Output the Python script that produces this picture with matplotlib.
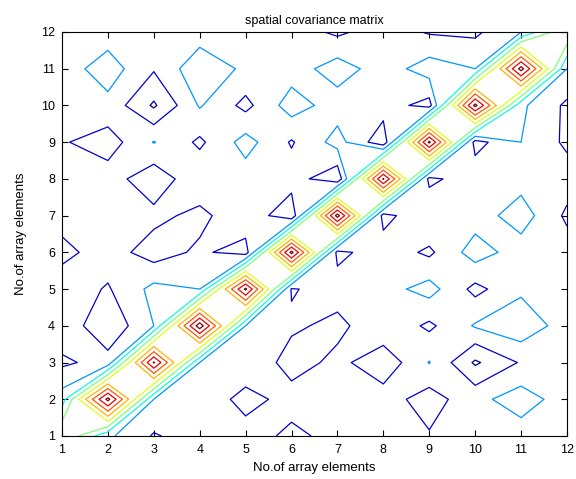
import numpy as np
import matplotlib
matplotlib.use("Agg")
import matplotlib.pyplot as plt

# array element index on both axes
x_elements = list(range(1, 13))
y_elements = list(range(1, 13))

# covariance magnitude, one row per y element (y = 1 at the bottom)
row_y1 = [0.60, 0.32, 0.19, 0.25, 0.26, 0.17, 0.24, 0.25, 0.21, 0.25, 0.25, 0.25]
row_y2 = [0.35, 1.03, 0.30, 0.30, 0.15, 0.25, 0.25, 0.25, 0.15, 0.27, 0.35, 0.25]
row_y3 = [0.18, 0.24, 1.01, 0.30, 0.30, 0.15, 0.23, 0.13, 0.305, 0.085, 0.21, 0.25]
row_y4 = [0.27, 0.12, 0.30, 1.06, 0.30, 0.22, 0.17, 0.28, 0.18, 0.31, 0.37, 0.25]
row_y5 = [0.26, 0.19, 0.33, 0.30, 1.02, 0.19, 0.25, 0.26, 0.34, 0.17, 0.28, 0.25]
row_y6 = [0.17, 0.25, 0.15, 0.22, 0.15, 1.03, 0.17, 0.26, 0.18, 0.35, 0.25, 0.25]
row_y7 = [0.24, 0.25, 0.23, 0.17, 0.28, 0.12, 1.04, 0.16, 0.30, 0.25, 0.35, 0.18]
row_y8 = [0.25, 0.25, 0.13, 0.28, 0.25, 0.25, 0.12, 1.01, 0.17, 0.27, 0.26, 0.25]
row_y9 = [0.21, 0.15, 0.305, 0.18, 0.34, 0.19, 0.34, 0.13, 1.02, 0.16, 0.30, 0.18]
row_y10 = [0.25, 0.27, 0.085, 0.31, 0.17, 0.35, 0.25, 0.25, 0.16, 1.03, 0.32, 0.18]
row_y11 = [0.25, 0.35, 0.21, 0.37, 0.28, 0.25, 0.35, 0.25, 0.35, 0.30, 1.04, 0.30]
row_y12 = [0.25, 0.25, 0.25, 0.25, 0.25, 0.25, 0.18, 0.25, 0.19, 0.18, 0.30, 0.60]

contour_levels = [0.1, 0.2, 0.3, 0.4, 0.5, 0.6, 0.7, 0.8, 0.9, 1.0]

Z = np.array([row_y1, row_y2, row_y3, row_y4, row_y5, row_y6,
              row_y7, row_y8, row_y9, row_y10, row_y11, row_y12])
X, Y = np.meshgrid(x_elements, y_elements)

# jet colours for each level (low levels pushed apart a bit, like the old MATLAB look)
jet = plt.get_cmap('jet')
level_colors = [jet(p) for p in [0.0, 0.07, 0.27, 0.37, 0.5, 0.62, 0.72, 0.82, 0.91, 1.0]]

fig = plt.figure(figsize=(5.76, 4.79), dpi=100)
ax = fig.add_axes([0.1076, 0.0898, 0.8767, 0.8434])

ax.contour(X, Y, Z, levels=contour_levels, colors=level_colors, linewidths=0.9)

ax.set_xlim(1, 12)
ax.set_ylim(1, 12)
ax.set_xticks(x_elements)
ax.set_yticks(y_elements)
ax.tick_params(direction='in', top=True, right=True, length=4, labelsize=9)
ax.tick_params(axis='x', pad=6)
ax.tick_params(axis='y', pad=5)
for s in ax.spines.values():
    s.set_linewidth(0.8)

ax.set_title('spatial covariance matrix', fontsize=9, pad=6)
ax.set_xlabel('No.of array elements', fontsize=9.5, labelpad=4)
ax.set_ylabel('No.of array elements', fontsize=9.5, labelpad=10)

for t in ax.get_xticklabels() + ax.get_yticklabels() + [ax.title, ax.xaxis.label, ax.yaxis.label]:
    t.set_family(['Liberation Sans', 'DejaVu Sans'])

fig.savefig('out.png', dpi=100)
